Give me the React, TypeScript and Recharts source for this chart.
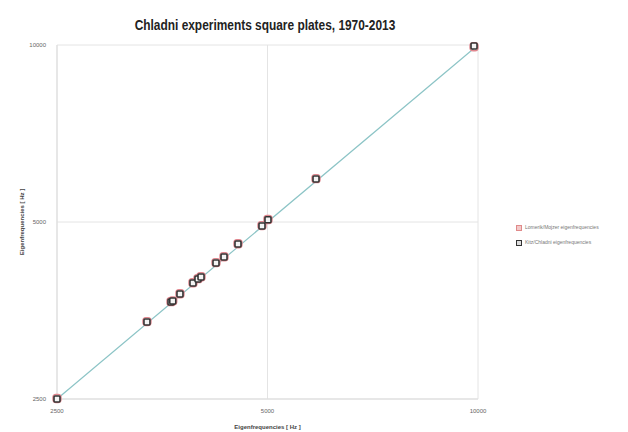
import React from 'react';
import { ScatterChart, Scatter, XAxis, YAxis, CartesianGrid } from 'recharts';

const mojzerX = [2500, 3362, 3639, 3660, 3748, 3912, 3977, 4017, 4220, 4333, 4537, 4910, 5008, 5866, 9870];
const mojzerY = [2505, 3385, 3660, 3672, 3775, 3942, 4005, 4035, 4265, 4365, 4592, 4930, 5050, 5925, 9930];
const chladniX = [2500, 3362, 3639, 3660, 3748, 3912, 3977, 4017, 4220, 4333, 4537, 4910, 5008, 5866, 9870];
const chladniY = [2500, 3380, 3655, 3670, 3771, 3937, 4000, 4030, 4258, 4360, 4588, 4922, 5044, 5917, 9960];
const lineX = [2500, 10000];
const lineY = [2500, 10000];
const ticks = [2500, 5000, 10000];
const seriesNames = ['Lomerik/Mojzer eigenfrequencies', 'Kitz/Chladni eigenfrequencies'];
const title = 'Chladni  experiments square plates, 1970-2013';

const mojzer = mojzerX.map((x, i) => ({ x, y: mojzerY[i] }));
const chladni = chladniX.map((x, i) => ({ x, y: chladniY[i] }));
const diag = lineX.map((x, i) => ({ x, y: lineY[i] }));

const RedMark = (p: any) => (
  <rect x={p.cx - 4} y={p.cy - 4} width={8} height={8} rx={3} fill="none" stroke="#e0868e" strokeWidth={1.4} />
);
const BlackMark = (p: any) => (
  <rect x={p.cx - 3} y={p.cy - 3} width={6} height={6} rx={1} fill="#f4f4f4" stroke="#333" strokeWidth={1.6} />
);

const LegendBox = () => (
  <div style={{ position: 'absolute', left: 516, top: 220, fontFamily: 'Liberation Sans, Arial', fontSize: 5, color: '#777', lineHeight: '15px' }}>
    <div style={{ display: 'flex', alignItems: 'center' }}>
      <span style={{ width: 4, height: 4, border: '1px solid #e08a8a', background: '#f3c9c9', marginRight: 3, display: 'inline-block' }} />
      {seriesNames[0]}
    </div>
    <div style={{ display: 'flex', alignItems: 'center' }}>
      <span style={{ width: 4, height: 4, border: '1px solid #333', background: '#ddd', marginRight: 3, display: 'inline-block' }} />
      {seriesNames[1]}
    </div>
  </div>
);

export default function App() {
  return (
    <div style={{ position: 'absolute', left: 0, top: 0, width: 628, height: 432, background: '#fff' }}>
      <div
        style={{
          position: 'absolute', left: 0, top: 17, width: 530, textAlign: 'center',
          fontFamily: 'Liberation Sans, Arial', fontWeight: 'bold', fontSize: 14, color: '#222',
          transform: 'scaleX(0.85)', transformOrigin: '265px 0', zIndex: 2,
        }}
      >
        {title}
      </div>
      <ScatterChart width={628} height={432} margin={{ top: 45, right: 150, bottom: 0, left: 0 }}>
        <CartesianGrid stroke="#e4e4e4" />
        <XAxis
          type="number" dataKey="x" scale="log" domain={[2500, 10000]} ticks={ticks}
          height={33} tickLine={false} tickSize={0} tickMargin={10}
          axisLine={{ stroke: '#ddd' }}
          tick={{ fontSize: 6, fill: '#666', fontFamily: 'Liberation Sans, Arial' }}
          label={{ value: 'Eigenfrequencies [ Hz ]', position: 'insideBottom', offset: 3, fontSize: 6, fill: '#444', fontWeight: 'bold', fontFamily: 'Liberation Sans, Arial' }}
        />
        <YAxis
          type="number" dataKey="y" scale="log" domain={[2500, 10000]} ticks={ticks}
          width={57} tickLine={false} tickSize={0} tickMargin={11}
          axisLine={{ stroke: '#ddd' }}
          tick={{ fontSize: 6, fill: '#666', fontFamily: 'Liberation Sans, Arial' }}
          label={{ value: 'Eigenfrequencies [ Hz ]', angle: -90, position: 'insideLeft', offset: 22, fontSize: 6, fill: '#444', fontWeight: 'bold', fontFamily: 'Liberation Sans, Arial', style: { textAnchor: 'middle' } }}
        />
        <Scatter data={diag} line={{ stroke: '#8cc4c6', strokeWidth: 1.2 }} shape={() => null} isAnimationActive={false} legendType="none" />
        <Scatter name={seriesNames[0]} data={mojzer} shape={RedMark} isAnimationActive={false} />
        <Scatter name={seriesNames[1]} data={chladni} shape={BlackMark} isAnimationActive={false} />
      </ScatterChart>
      <LegendBox />
    </div>
  );
}
